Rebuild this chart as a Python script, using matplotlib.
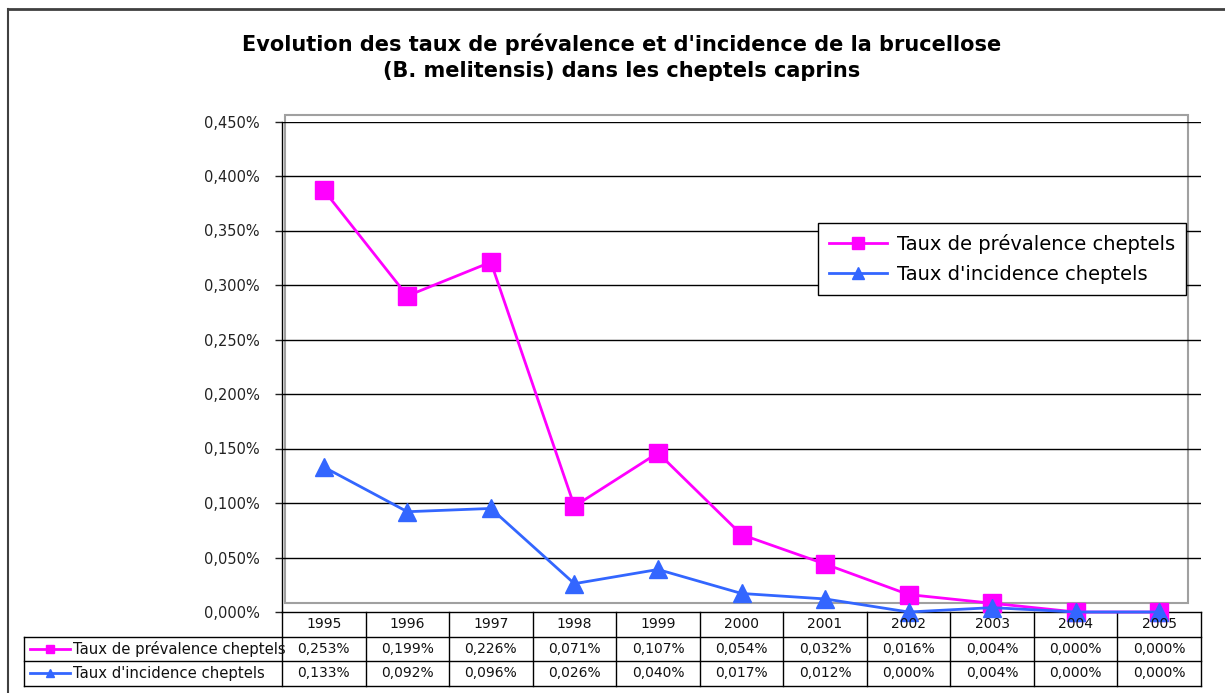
import matplotlib
matplotlib.use("Agg")
import matplotlib.pyplot as plt
from matplotlib.lines import Line2D
from matplotlib.patches import Rectangle
import matplotlib.transforms as mtransforms

plt.rcParams['font.family'] = ['DejaVu Sans']

years = ['1995', '1996', '1997', '1998', '1999', '2000', '2001', '2002', '2003', '2004', '2005']
prevalence = [0.387, 0.290, 0.321, 0.097, 0.146, 0.071, 0.044, 0.016, 0.008, 0.000, 0.000]
incidence = [0.133, 0.092, 0.095, 0.026, 0.039, 0.017, 0.012, 0.000, 0.004, 0.000, 0.000]
table_prev = ['0,253%', '0,199%', '0,226%', '0,071%', '0,107%', '0,054%', '0,032%', '0,016%', '0,004%', '0,000%', '0,000%']
table_inc = ['0,133%', '0,092%', '0,096%', '0,026%', '0,040%', '0,017%', '0,012%', '0,000%', '0,004%', '0,000%', '0,000%']
label_prev = 'Taux de prévalence cheptels'
label_inc = "Taux d'incidence cheptels"
yticks = [0.0, 0.05, 0.10, 0.15, 0.20, 0.25, 0.30, 0.35, 0.40, 0.45]
title = "Evolution des taux de prévalence et d'incidence de la brucellose\n(B. melitensis) dans les cheptels caprins"

PINK = '#FF00FF'
BLUE = '#3366FF'

W, H = 1225, 693
fig = plt.figure(figsize=(W / 100, H / 100), dpi=100)

# outer chart border (top and left)
fig.add_artist(Line2D([8 / W, 8 / W], [0, 1 - 9 / H], color='#404040', lw=1.5, transform=fig.transFigure))
fig.add_artist(Line2D([8 / W, 1], [1 - 9 / H, 1 - 9 / H], color='#404040', lw=2, transform=fig.transFigure))

left, right = 282 / W, 1201 / W
bottom, top = 1 - 612 / H, 1 - 121.5 / H
ax = fig.add_axes([left, bottom, right - left, top - bottom])

x = list(range(len(years)))
ax.set_xlim(-0.5, len(years) - 0.5)
ax.set_ylim(0, 0.45)

# plot-area gray frame
axw_px = (right - left) * W
axh_px = (top - bottom) * H
fx0 = (285 - 282) / axw_px
fx1 = (1188 - 282) / axw_px
fy0 = (612 - 603) / axh_px
fy1 = (612 - 115) / axh_px
ax.add_patch(Rectangle((fx0, fy0), fx1 - fx0, fy1 - fy0, transform=ax.transAxes,
                       fill=False, edgecolor='#a0a0a0', lw=1.5, zorder=1, clip_on=False))

for yv in yticks[1:]:
    ax.axhline(yv, color='black', lw=1, zorder=1.5)

ax.plot(x, prevalence, color=PINK, lw=2, marker='s', ms=12.5, mec=PINK, mfc=PINK,
        label=label_prev, zorder=3, clip_on=False)
ax.plot(x, incidence, color=BLUE, lw=2, marker='^', ms=12.5, mec=BLUE, mfc=BLUE,
        label=label_inc, zorder=3, clip_on=False)

for s in ['top', 'right', 'bottom']:
    ax.spines[s].set_visible(False)
ax.spines['left'].set_color('black')
ax.spines['left'].set_linewidth(1)
ax.set_xticks([])
ax.set_yticks(yticks)
ax.set_yticklabels([('%.3f%%' % v).replace('.', ',') for v in yticks], fontsize=10.5)
ax.tick_params(axis='y', length=5, width=1, pad=11, colors='#222222')

leg = ax.legend(loc='upper left', bbox_to_anchor=((818 - 282) / axw_px, (612 - 223.5) / axh_px),
                fontsize=14, frameon=True, fancybox=False, edgecolor='black',
                borderpad=0.55, labelspacing=0.55, handlelength=3.0, handletextpad=0.5,
                markerscale=0.7, framealpha=1, borderaxespad=0)
leg.get_frame().set_linewidth(1)
leg.set_zorder(5)

# data table under the axis
trans = mtransforms.blended_transform_factory(ax.transData, ax.transAxes)
row_h = 24.5 / axh_px
r0 = 0.0
rows_y = [r0, r0 - row_h, r0 - 2 * row_h, r0 - 3 * row_h]
lab_left = -0.5 - (282 - 24) / (axw_px / len(years))
xr = len(years) - 0.5

lk = dict(transform=trans, clip_on=False, color='black', lw=1)
ax.add_artist(Line2D([-0.5, xr], [rows_y[0]] * 2, **lk))
for ry in rows_y[1:]:
    ax.add_artist(Line2D([lab_left, xr], [ry] * 2, **lk))
for i in range(len(years) + 1):
    ax.add_artist(Line2D([i - 0.5, i - 0.5], [rows_y[0], rows_y[3]], **lk))
ax.add_artist(Line2D([lab_left, lab_left], [rows_y[1], rows_y[3]], **lk))

tk = dict(transform=trans, ha='center', va='center', fontsize=10, clip_on=False, color='#111111')
for i, yr in enumerate(years):
    ax.text(i, (rows_y[0] + rows_y[1]) / 2, yr, **tk)
    ax.text(i, (rows_y[1] + rows_y[2]) / 2, table_prev[i], **tk)
    ax.text(i, (rows_y[2] + rows_y[3]) / 2, table_inc[i], **tk)

unit = axw_px / len(years)
kx0 = lab_left + 6 / unit
kx1 = lab_left + 46 / unit
kxm = (kx0 + kx1) / 2
for ry0, ry1, col, mk, lab in [(rows_y[1], rows_y[2], PINK, 's', label_prev),
                                (rows_y[2], rows_y[3], BLUE, '^', label_inc)]:
    yc = (ry0 + ry1) / 2
    ax.add_artist(Line2D([kx0, kx1], [yc, yc], color=col, lw=2, transform=trans, clip_on=False))
    ax.add_artist(Line2D([kxm], [yc], color=col, marker=mk, ms=6, transform=trans, clip_on=False))
    ax.text(kx1 + 3 / unit, yc, lab, transform=trans, ha='left', va='center', fontsize=10.7,
            clip_on=False, color='#111111')

fig.text(622 / W, 1 - 57 / H, title, ha='center', va='center', fontsize=15, fontweight='bold',
         linespacing=1.35)

fig.savefig('out.png', dpi=100)
